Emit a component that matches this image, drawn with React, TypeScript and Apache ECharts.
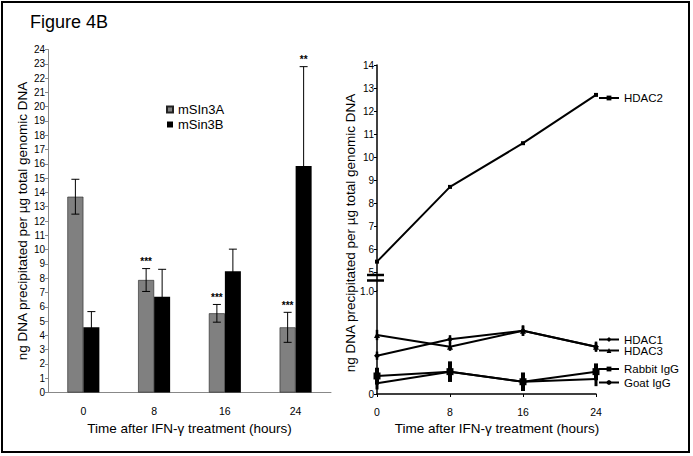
import React, { useEffect, useRef } from 'react';
import * as echarts from 'echarts';

// ---- Left panel data ----
const categories = ['0', '8', '16', '24'];
const mSin3A = [13.7, 7.87, 5.54, 4.56];
const mSin3AErr = [1.22, 0.8, 0.62, 1.05];
const mSin3B = [4.56, 6.7, 8.48, 15.85];
const mSin3BErr = [1.1, 1.92, 1.55, 6.95];
const mSin3AStars = ['', '***', '***', '***'];
const mSin3BStars = ['', '', '', '**'];

// ---- Right panel data ----
const hours = [0, 8, 16, 24];
const hdac2 = [5.45, 8.7, 10.6, 12.7];
const hdac1 = [0.372, 0.531, 0.615, 0.459];
const hdac1Err = [0.04, 0.04, 0.05, 0.04];
const hdac3 = [0.573, 0.459, 0.615, 0.459];
const hdac3Err = [0.05, 0.04, 0.05, 0.05];
const rabbitIgG = [0.175, 0.217, 0.119, 0.217];
const rabbitErr = [0.08, 0.1, 0.09, 0.08];
const goatIgG = [0.104, 0.217, 0.119, 0.146];
const goatErr = [0.06, 0.05, 0.06, 0.07];

const FONT = 'Liberation Sans, Arial, Helvetica, sans-serif';
const Y_NAME = 'ng DNA precipitated per µg total genomic DNA';
const X_NAME = 'Time after IFN-γ treatment (hours)';

// layout
const RG_LEFT = 377;
const RG_W = 219;
const UP_TOP = 65;
const UP_H = 207;
const LO_TOP = 291;
const LO_H = 103;

function barErrSeries(name: string, vals: number[], errs: number[], stars: string[], offset: number) {
  return {
    type: 'custom',
    name: name + ' err',
    xAxisIndex: 0,
    yAxisIndex: 0,
    z: 5,
    data: vals.map((v, i) => [i, v, errs[i]]),
    renderItem: (params: any, api: any) => {
      const i = api.value(0);
      const v = api.value(1);
      const e = api.value(2);
      const top = api.coord([i, v + e]);
      const bot = api.coord([i, v - e]);
      const x = top[0] + offset;
      const st = { stroke: '#000', lineWidth: 1 };
      const children: any[] = [
        { type: 'line', shape: { x1: x, y1: top[1], x2: x, y2: bot[1] }, style: st },
        { type: 'line', shape: { x1: x - 4, y1: top[1], x2: x + 4, y2: top[1] }, style: st },
        { type: 'line', shape: { x1: x - 4, y1: bot[1], x2: x + 4, y2: bot[1] }, style: st },
      ];
      const s = stars[params.dataIndex];
      if (s) {
        children.push({
          type: 'text',
          x: x,
          y: top[1] - 2,
          style: { text: s, fill: '#000', font: 'bold 10px ' + FONT, align: 'center', verticalAlign: 'bottom' },
        });
      }
      return { type: 'group', children };
    },
  };
}

function lineErrSeries(name: string, vals: number[], errs: number[], width: number) {
  return {
    type: 'custom',
    name: name + ' err',
    xAxisIndex: 2,
    yAxisIndex: 2,
    z: 5,
    data: vals.map((v, i) => [hours[i], v, errs[i]]),
    renderItem: (params: any, api: any) => {
      const h = api.value(0);
      const v = api.value(1);
      const e = api.value(2);
      const a = api.coord([h, v + e]);
      const b = api.coord([h, v - e]);
      return {
        type: 'line',
        shape: { x1: a[0], y1: a[1], x2: b[0], y2: b[1] },
        style: { stroke: '#000', lineWidth: width },
      };
    },
  };
}

function lineSeries(name: string, vals: number[], symbol: string, size: number, axis: number) {
  return {
    type: 'line',
    name,
    xAxisIndex: axis,
    yAxisIndex: axis,
    data: vals.map((v, i) => [hours[i], v]),
    symbol,
    symbolSize: size,
    showAllSymbol: true,
    lineStyle: { color: '#000', width: 2 },
    itemStyle: { color: '#000' },
    z: 4,
  };
}

function sideLegend(name: string, centerY: number) {
  return {
    data: [name],
    left: 598,
    top: centerY - 7,
    itemWidth: 20,
    itemHeight: 6,
    padding: 0,
    textStyle: { fontSize: 11.5, color: '#000', fontFamily: FONT },
    selectedMode: false,
  };
}

export default function App() {
  const ref = useRef<HTMLDivElement>(null);
  useEffect(() => {
    const chart = echarts.init(ref.current!, null, { renderer: 'svg' });
    const option: any = {
      animation: false,
      backgroundColor: '#fff',
      textStyle: { fontFamily: FONT, color: '#000' },
      grid: [
        { left: 48, top: 49.5, width: 283, height: 343 },
        { left: RG_LEFT, top: UP_TOP, width: RG_W, height: UP_H },
        { left: RG_LEFT, top: LO_TOP, width: RG_W, height: LO_H },
      ],
      xAxis: [
        {
          type: 'category',
          gridIndex: 0,
          data: categories,
          axisLine: { lineStyle: { color: '#888', width: 1 } },
          axisTick: { length: 4, lineStyle: { color: '#888' } },
          axisLabel: { fontSize: 10.5, color: '#000', margin: 13, fontFamily: FONT },
          name: X_NAME,
          nameLocation: 'middle',
          nameGap: 29,
          nameTextStyle: { fontSize: 13.5, color: '#000', fontFamily: FONT },
        },
        { type: 'value', gridIndex: 1, min: 0, max: 24, show: false },
        {
          type: 'value',
          gridIndex: 2,
          min: 0,
          max: 24,
          interval: 8,
          axisLine: { lineStyle: { color: '#000', width: 1.5 } },
          axisTick: { length: 3, lineStyle: { color: '#000' } },
          axisLabel: { fontSize: 10.5, color: '#000', margin: 12, fontFamily: FONT },
          splitLine: { show: false },
        },
      ],
      yAxis: [
        {
          type: 'value',
          gridIndex: 0,
          min: 0,
          max: 24,
          interval: 1,
          axisLine: { show: true, lineStyle: { color: '#888', width: 1 } },
          axisTick: { show: true, length: 3, lineStyle: { color: '#888' } },
          axisLabel: { fontSize: 10, color: '#000', margin: 3, fontFamily: FONT },
          splitLine: { show: false },
          name: Y_NAME,
          nameLocation: 'middle',
          nameGap: 19,
          nameRotate: 90,
          nameTextStyle: { fontSize: 13.5, color: '#000', fontFamily: FONT },
        },
        {
          type: 'value',
          gridIndex: 1,
          min: 5,
          max: 14,
          interval: 1,
          axisLine: { show: true, lineStyle: { color: '#000', width: 1.5 } },
          axisTick: { show: true, length: 3, lineStyle: { color: '#000' } },
          axisLabel: { fontSize: 10, color: '#000', margin: 3, fontFamily: FONT },
          splitLine: { show: false },
        },
        {
          type: 'value',
          gridIndex: 2,
          min: 0,
          max: 1,
          interval: 1,
          axisLine: { show: true, lineStyle: { color: '#000', width: 1.5 } },
          axisTick: { show: true, length: 3, lineStyle: { color: '#000' } },
          axisLabel: {
            fontSize: 10,
            color: '#000',
            margin: 3,
            fontFamily: FONT,
            formatter: (v: number) => (v === 0 ? '0' : '1.0'),
          },
          splitLine: { show: false },
        },
      ],
      legend: [
        {
          data: ['mSIn3A', 'mSin3B'],
          orient: 'vertical',
          left: 166,
          top: 103,
          itemWidth: 6,
          itemHeight: 6,
          itemGap: 2,
          padding: 0,
          icon: 'rect',
          textStyle: { fontSize: 13, lineHeight: 13, color: '#000', fontFamily: FONT },
          selectedMode: false,
        },
        sideLegend('HDAC2', 99),
        sideLegend('HDAC1', 340.5),
        sideLegend('HDAC3', 351.5),
        sideLegend('Rabbit IgG', 370),
        sideLegend('Goat IgG', 383.5),
      ],
      series: [
        {
          type: 'bar',
          name: 'mSIn3A',
          xAxisIndex: 0,
          yAxisIndex: 0,
          data: mSin3A,
          barWidth: 16,
          barGap: '0%',
          itemStyle: { color: '#808080', borderColor: '#222', borderWidth: 0.6 },
        },
        {
          type: 'bar',
          name: 'mSin3B',
          xAxisIndex: 0,
          yAxisIndex: 0,
          data: mSin3B,
          barWidth: 16,
          barGap: '0%',
          itemStyle: { color: '#000' },
        },
        barErrSeries('mSIn3A', mSin3A, mSin3AErr, mSin3AStars, -8),
        barErrSeries('mSin3B', mSin3B, mSin3BErr, mSin3BStars, 8),
        lineSeries('HDAC2', hdac2, 'rect', 4, 1),
        lineSeries('HDAC1', hdac1, 'diamond', 6, 2),
        lineSeries('HDAC3', hdac3, 'triangle', 6, 2),
        lineSeries('Rabbit IgG', rabbitIgG, 'rect', 7, 2),
        lineSeries('Goat IgG', goatIgG, 'circle', 4, 2),
        lineErrSeries('HDAC1', hdac1, hdac1Err, 2.5),
        lineErrSeries('HDAC3', hdac3, hdac3Err, 2.5),
        lineErrSeries('Rabbit IgG', rabbitIgG, rabbitErr, 4),
        lineErrSeries('Goat IgG', goatIgG, goatErr, 3),
      ],
      graphic: [
        {
          type: 'rect',
          shape: { x: 2, y: 2, width: 687, height: 450 },
          style: { fill: 'none', stroke: '#000', lineWidth: 2 },
          silent: true,
        },
        {
          type: 'text',
          x: 30,
          y: 22,
          style: { text: 'Figure 4B', font: '18px ' + FONT, fill: '#000', verticalAlign: 'middle' },
        },
        {
          type: 'text',
          x: 350,
          y: 233,
          rotation: Math.PI / 2,
          style: { text: Y_NAME, font: '13.5px ' + FONT, fill: '#000', align: 'center', verticalAlign: 'middle' },
        },
        {
          type: 'text',
          x: 497,
          y: 428,
          style: { text: X_NAME, font: '13.5px ' + FONT, fill: '#000', align: 'center', verticalAlign: 'middle' },
        },
        {
          type: 'line',
          shape: { x1: RG_LEFT, y1: UP_TOP + UP_H, x2: RG_LEFT, y2: LO_TOP },
          style: { stroke: '#000', lineWidth: 1.5 },
        },
        {
          type: 'line',
          shape: { x1: RG_LEFT - 10, y1: 275, x2: RG_LEFT + 7, y2: 275 },
          style: { stroke: '#000', lineWidth: 2.5 },
        },
        {
          type: 'line',
          shape: { x1: RG_LEFT - 10, y1: 280.5, x2: RG_LEFT + 7, y2: 280.5 },
          style: { stroke: '#000', lineWidth: 2.5 },
        },
      ],
    };
    chart.setOption(option);
    return () => chart.dispose();
  }, []);
  return (
    <div
      ref={ref}
      style={{ position: 'fixed', left: 0, top: 0, width: 693, height: 456, background: '#fff' }}
    />
  );
}
